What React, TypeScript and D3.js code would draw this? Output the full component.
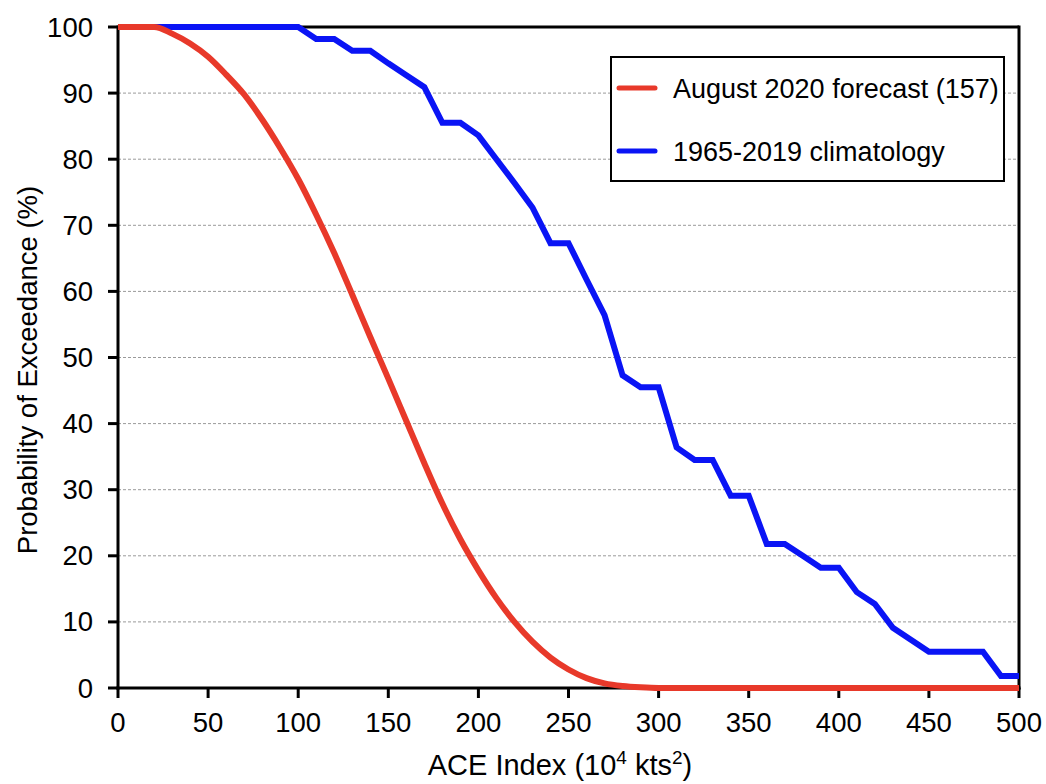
import React from "react";
import * as d3 from "d3";

const aceValues = [0,10,20,30,40,50,60,70,80,90,100,110,120,130,140,150,160,170,180,190,200,210,220,230,240,250,260,270,280,290,300,310,320,330,340,350,360,370,380,390,400,410,420,430,440,450,460,470,480,490,500];

const forecast = [100,100,100,99,97.5,95.5,92.8,89.8,86,81.7,77,71.6,65.8,59.5,53.1,46.8,40.4,34,27.9,22.5,17.8,13.6,10,7,4.6,2.8,1.5,0.7,0.3,0.1,0,0,0,0,0,0,0,0,0,0,0,0,0,0,0,0,0,0,0,0,0];

const climatology = [100,100,100,100,100,100,100,100,100,100,100,98.2,98.2,96.4,96.4,94.5,92.7,90.9,85.5,85.5,83.6,80,76.4,72.7,67.3,67.3,61.8,56.4,47.3,45.5,45.5,36.4,34.5,34.5,29.1,29.1,21.8,21.8,20,18.2,18.2,14.5,12.7,9.1,7.3,5.5,5.5,5.5,5.5,1.8,1.8];

const xTicks = [0,50,100,150,200,250,300,350,400,450,500];
const yTicks = [0,10,20,30,40,50,60,70,80,90,100];
const gridTicks = [10,20,30,40,50,60,70,80,90];

const seriesNames = ["August 2020 forecast (157)", "1965-2019 climatology"];
const seriesColors = ["#e8392a", "#0a14f5"];

const FONT = "'Liberation Sans', Arial, Helvetica, sans-serif";

export default function App() {
  const W = 1046, H = 784;
  const x = d3.scaleLinear().domain([0, 500]).range([118, 1019]);
  const y = d3.scaleLinear().domain([0, 100]).range([688, 27]);

  const redLine = d3.line<number>()
    .x((_, i) => x(aceValues[i]))
    .y((d) => y(d))
    .curve(d3.curveMonotoneX);
  const blueLine = d3.line<number>()
    .x((_, i) => x(aceValues[i]))
    .y((d) => y(d));

  return (
    <svg width={W} height={H} style={{ position: "absolute", left: 0, top: 0, background: "#fff" }} fontFamily={FONT}>
      <rect x={0} y={0} width={W} height={H} fill="#fff" />
      {gridTicks.map((t) => (
        <line key={"g" + t} x1={x(0)} x2={x(500)} y1={y(t)} y2={y(t)} stroke="#9a9a9a" strokeWidth={1} strokeDasharray="3,2" />
      ))}
      {/* frame */}
      <line x1={x(0)} x2={x(500)} y1={y(100)} y2={y(100)} stroke="#000" strokeWidth={3} />
      <line x1={x(500)} x2={x(500)} y1={y(100) - 1.5} y2={y(0) + 1.5} stroke="#000" strokeWidth={3} />
      <line x1={x(0)} x2={x(0)} y1={y(100) - 1.5} y2={y(0) + 1.5} stroke="#000" strokeWidth={3} />
      <line x1={x(0) - 1.5} x2={x(500) + 1.5} y1={y(0)} y2={y(0)} stroke="#000" strokeWidth={3} />
      {yTicks.map((t) => (
        <g key={"y" + t}>
          <line x1={x(0) - 10} x2={x(0)} y1={y(t)} y2={y(t)} stroke="#000" strokeWidth={3} />
          <text x={93} y={y(t) + 9.5} textAnchor="end" fontSize={27.5} fill="#000">{t}</text>
        </g>
      ))}
      {xTicks.map((t) => (
        <g key={"x" + t}>
          <line x1={x(t)} x2={x(t)} y1={y(0)} y2={y(0) + 10} stroke="#000" strokeWidth={3} />
          <text x={x(t)} y={732} textAnchor="middle" fontSize={27.5} fill="#000">{t}</text>
        </g>
      ))}
      <path d={blueLine(climatology) || ""} fill="none" stroke={seriesColors[1]} strokeWidth={6} strokeLinejoin="miter" />
      <path d={redLine(forecast) || ""} fill="none" stroke={seriesColors[0]} strokeWidth={6} />
      {/* axis titles */}
      <text x={560} y={775} textAnchor="middle" fontSize={29} fill="#000">
        ACE Index (10<tspan fontSize={19} dy={-11}>4</tspan><tspan dy={11}> kts</tspan><tspan fontSize={19} dy={-11}>2</tspan><tspan dy={11}>)</tspan>
      </text>
      <text transform="translate(37,370) rotate(-90)" textAnchor="middle" fontSize={27.5} fill="#000">Probability of Exceedance (%)</text>
      {/* legend */}
      <rect x={611} y={57} width={393} height={124} fill="#fff" stroke="#000" strokeWidth={2} />
      {seriesNames.map((name, i) => (
        <g key={name}>
          <line x1={619} x2={655} y1={88 + i * 63} y2={88 + i * 63} stroke={seriesColors[i]} strokeWidth={5} strokeLinecap="round" />
          <text x={673} y={97.5 + i * 63} fontSize={27} fill="#000">{name}</text>
        </g>
      ))}
    </svg>
  );
}
